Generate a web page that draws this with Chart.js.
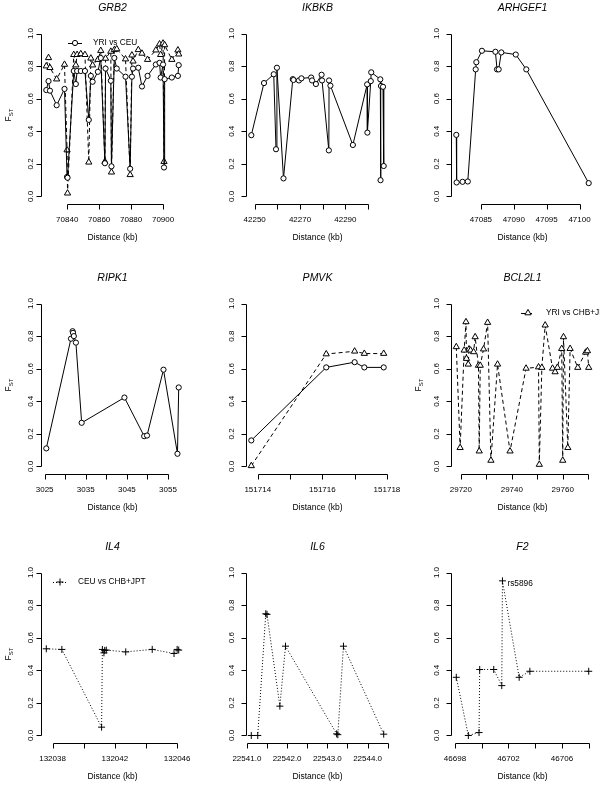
<!DOCTYPE html>
<html>
<head>
<meta charset="utf-8">
<script src="https://cdn.jsdelivr.net/npm/chart.js@4.4.0/dist/chart.umd.min.js"></script>
<style>
html, body { margin: 0; padding: 0; background: #fff; width: 600px; height: 785px; overflow: hidden; position: relative; }
canvas { position: absolute; }
</style>
</head>
<body>
<script>
// EJE Y COMUN (F_ST)
const fstTicks = [0, 0.2, 0.4, 0.6, 0.8, 1.0];
const fstEtiq = ['0.0', '0.2', '0.4', '0.6', '0.8', '1.0'];

// NOMBRES DE LAS COMPARACIONES
const nombresSerie = { ceu: 'YRI vs CEU', chb: 'YRI vs CHB+JPT', asia: 'CEU vs CHB+JPT' };

// GRB2
const grb2Kb = [70826.9, 70828.3, 70829.2, 70833.4, 70838.3, 70839.9, 70840.2, 70844.1, 70845.4, 70846.2,
  70848.5, 70851.1, 70853.5, 70854.8, 70855.9, 70859.2, 70861.0, 70863.6, 70864.0, 70867.3,
  70867.7, 70869.5, 70871.0, 70876.5, 70879.4, 70880.5, 70881.2, 70884.5, 70886.8, 70890.3,
  70895.5, 70897.8, 70898.5, 70900.0, 70900.6, 70901.0, 70905.5, 70909.3, 70909.8];
const grb2Ceu = [0.653, 0.708, 0.649, 0.56, 0.66, 0.12, 0.115, 0.77, 0.69, 0.77,
  0.77, 0.77, 0.47, 0.74, 0.704, 0.765, 0.85, 0.204, 0.785, 0.71,
  0.185, 0.85, 0.785, 0.735, 0.17, 0.735, 0.785, 0.79, 0.675, 0.74,
  0.81, 0.82, 0.73, 0.81, 0.178, 0.72, 0.73, 0.74, 0.806];
const grb2Chb = [0.80, 0.851, 0.79, 0.72, 0.81, 0.285, 0.02, 0.87, 0.806, 0.87,
  0.875, 0.87, 0.21, 0.848, 0.806, 0.84, 0.895, 0.214, 0.847, 0.89,
  0.149, 0.90, 0.905, 0.843, 0.133, 0.867, 0.83, 0.90, 0.878, 0.84,
  0.898, 0.935, 0.87, 0.94, 0.214, 0.93, 0.84, 0.898, 0.873];
const grb2Ticks = [70840, 70860, 70880, 70900];
const grb2Etiq = ['70840', '70860', '70880', '70900'];

// IKBKB
const ikbkbKb = [42248.5, 42254.1, 42258.4, 42259.4, 42259.8, 42262.7, 42266.8, 42267.1, 42269.5, 42270.6,
  42274.9, 42275.3, 42277.0, 42279.5, 42279.7, 42282.7, 42282.8, 42283.4, 42293.3, 42299.6,
  42299.7, 42301.2, 42301.4, 42305.4, 42305.5, 42305.7, 42306.6, 42306.9];
const ikbkbCeu = [0.376, 0.696, 0.75, 0.29, 0.79, 0.111, 0.72, 0.715, 0.712, 0.725,
  0.73, 0.712, 0.69, 0.747, 0.712, 0.283, 0.712, 0.68, 0.316, 0.688,
  0.392, 0.708, 0.762, 0.719, 0.10, 0.678, 0.673, 0.187];
const ikbkbTicks = [42250, 42260, 42270, 42280, 42290, 42300];
const ikbkbEtiq = ['42250', '', '42270', '', '42290', ''];

// ARHGEF1
const arhgef1Kb = [47081.25, 47081.3, 47082.2, 47083.0, 47084.2, 47084.3, 47085.15, 47087.2, 47087.45, 47087.7,
  47088.1, 47090.3, 47091.9, 47101.4];
const arhgef1Ceu = [0.378, 0.086, 0.09, 0.092, 0.78, 0.824, 0.894, 0.888, 0.78, 0.78,
  0.884, 0.871, 0.78, 0.082];
const arhgef1Ticks = [47085, 47090, 47095, 47100];
const arhgef1Etiq = ['47085', '47090', '47095', '47100'];

// RIPK1
const ripk1Kb = [3025.4, 3031.4, 3031.8, 3031.9, 3032.1, 3032.6, 3034.0, 3044.4, 3049.2, 3049.9, 3053.9, 3057.3, 3057.6];
const ripk1Ceu = [0.111, 0.784, 0.83, 0.82, 0.80, 0.76, 0.268, 0.423, 0.186, 0.19, 0.594, 0.078, 0.485];
const ripk1Ticks = [3025, 3030, 3035, 3040, 3045, 3050, 3055];
const ripk1Etiq = ['3025', '', '3035', '', '3045', '', '3055'];

// PMVK
const pmvkKb = [151713.8, 151716.12, 151717.0, 151717.3, 151717.9];
const pmvkCeu = [0.16, 0.608, 0.64, 0.608, 0.608];
const pmvkChb = [0.004, 0.69, 0.707, 0.693, 0.693];
const pmvkTicks = [151714, 151715, 151716, 151717, 151718];
const pmvkEtiq = ['151714', '', '151716', '', '151718'];

// BCL2L1
const bcl2l1Kb = [29718.2, 29719.7, 29721.3, 29722.0, 29722.2, 29722.9, 29723.2, 29723.8, 29725.0, 29725.6,
  29726.9, 29727.2, 29727.6, 29728.9, 29730.5, 29731.8, 29734.4, 29739.3, 29745.6, 29750.5,
  29750.8, 29751.8, 29753.1, 29756.0, 29757.0, 29757.9, 29759.6, 29760.0, 29760.3, 29762.0,
  29762.9, 29765.9, 29769.0, 29769.7, 29770.2];
const bcl2l1Chb = [0.734, 0.115, 0.713, 0.887, 0.662, 0.627, 0.72, 0.713, 0.703, 0.795,
  0.62, 0.094, 0.62, 0.72, 0.883, 0.037, 0.627, 0.094, 0.602, 0.61,
  0.012, 0.607, 0.867, 0.602, 0.58, 0.607, 0.723, 0.037, 0.795, 0.115,
  0.723, 0.607, 0.70, 0.709, 0.607];
const bcl2l1Ticks = [29720, 29730, 29740, 29750, 29760, 29770];
const bcl2l1Etiq = ['29720', '', '29740', '', '29760', ''];

// IL4
const il4Kb = [132037.6, 132038.6, 132041.15, 132041.2, 132041.3, 132041.35, 132041.45, 132042.7, 132044.4, 132045.8, 132046.0, 132046.1];
const il4Asia = [0.532, 0.528, 0.051, 0.528, 0.507, 0.522, 0.524, 0.513, 0.528, 0.503, 0.528, 0.524];
const il4Ticks = [132038, 132040, 132042, 132044, 132046];
const il4Etiq = ['132038', '', '132042', '', '132046'];

// IL6
const il6Kb = [22541.11, 22541.27, 22541.47, 22541.5, 22541.82, 22541.96, 22543.23, 22543.26, 22543.4, 22544.4];
const il6Asia = [0.0, 0.0, 0.747, 0.743, 0.18, 0.548, 0.01, 0.005, 0.548, 0.008];
const il6Ticks = [22541.0, 22541.5, 22542.0, 22542.5, 22543.0, 22543.5, 22544.0, 22544.5];
const il6Etiq = ['22541.0', '', '22542.0', '', '22543.0', '', '22544.0', ''];

// F2
const f2Kb = [46698.1, 46699.0, 46699.8, 46699.85, 46700.9, 46701.5, 46701.55, 46702.8, 46703.6, 46708.0];
const f2Asia = [0.357, 0.0, 0.018, 0.405, 0.405, 0.306, 0.949, 0.357, 0.394, 0.394];
const f2Ticks = [46698, 46700, 46702, 46704, 46706, 46708];
const f2Etiq = ['46698', '', '46702', '', '46706', ''];
const f2Nota = 'rs5896';

// ESTILOS DE CADA COMPARACION (como pch 1, 2, 3 de R)
const estilos = {
  ceu: { punto: 'circle', radio: 2.6, dash: [], fondo: '#fff' },
  chb: { punto: 'triangle', radio: 3.6, dash: [4, 3], fondo: '#fff' },
  asia: { punto: 'cross', radio: 3.5, dash: [1, 2], fondo: 'rgba(0,0,0,0)' }
};

const paneles = [
  { titulo: 'GRB2', fila: 0, col: 0, kb: grb2Kb, series: [[grb2Ceu, 'ceu'], [grb2Chb, 'chb']], ticks: grb2Ticks, etiq: grb2Etiq, fst: true, leyenda: { tipo: 'ceu', dx: 27 } },
  { titulo: 'IKBKB', fila: 0, col: 1, kb: ikbkbKb, series: [[ikbkbCeu, 'ceu']], ticks: ikbkbTicks, etiq: ikbkbEtiq },
  { titulo: 'ARHGEF1', fila: 0, col: 2, kb: arhgef1Kb, series: [[arhgef1Ceu, 'ceu']], ticks: arhgef1Ticks, etiq: arhgef1Etiq },
  { titulo: 'RIPK1', fila: 1, col: 0, kb: ripk1Kb, series: [[ripk1Ceu, 'ceu']], ticks: ripk1Ticks, etiq: ripk1Etiq, fst: true },
  { titulo: 'PMVK', fila: 1, col: 1, kb: pmvkKb, series: [[pmvkCeu, 'ceu'], [pmvkChb, 'chb']], ticks: pmvkTicks, etiq: pmvkEtiq },
  { titulo: 'BCL2L1', fila: 1, col: 2, kb: bcl2l1Kb, series: [[bcl2l1Chb, 'chb']], ticks: bcl2l1Ticks, etiq: bcl2l1Etiq, fst: true, leyenda: { tipo: 'chb', dx: 70 } },
  { titulo: 'IL4', fila: 2, col: 0, kb: il4Kb, series: [[il4Asia, 'asia']], ticks: il4Ticks, etiq: il4Etiq, fst: true, leyenda: { tipo: 'asia', dx: 12 } },
  { titulo: 'IL6', fila: 2, col: 1, kb: il6Kb, series: [[il6Asia, 'asia']], ticks: il6Ticks, etiq: il6Etiq },
  { titulo: 'F2', fila: 2, col: 2, kb: f2Kb, series: [[f2Asia, 'asia']], ticks: f2Ticks, etiq: f2Etiq, nota: f2Nota }
];

// POSICIONES DE LOS PANELES
const anchoPanel = 205, altoPanel = 270;
const filasTop = [0, 270, 539];
const separacionY = [10.5, 14.5, 14.5];
const fuente = '"Liberation Sans", Arial, Helvetica, sans-serif';

// rango de R: 4% extra a cada lado
function rangoR(valores) {
  let min = Math.min(...valores), max = Math.max(...valores);
  let pad = (max - min) * 0.04;
  return [min - pad, max + pad];
}

function crearDataset(kb, fst, tipo) {
  const e = estilos[tipo];
  return {
    data: kb.map((x, i) => ({ x: x, y: fst[i] })),
    showLine: true,
    borderColor: '#000',
    borderWidth: 1,
    borderDash: e.dash,
    tension: 0,
    pointStyle: e.punto,
    pointRadius: e.radio,
    pointBorderColor: '#000',
    pointBackgroundColor: e.fondo,
    pointBorderWidth: 1
  };
}

function dibujarSimbolo(ctx, tipo, x, y) {
  const e = estilos[tipo];
  ctx.beginPath();
  if (tipo === 'ceu') {
    ctx.arc(x, y, e.radio, 0, Math.PI * 2);
    ctx.fillStyle = '#fff'; ctx.fill();
  } else if (tipo === 'chb') {
    let r = e.radio;
    ctx.moveTo(x, y - r);
    ctx.lineTo(x + Math.sin(2 * Math.PI / 3) * r, y - Math.cos(2 * Math.PI / 3) * r);
    ctx.lineTo(x + Math.sin(4 * Math.PI / 3) * r, y - Math.cos(4 * Math.PI / 3) * r);
    ctx.closePath();
    ctx.fillStyle = '#fff'; ctx.fill();
  } else {
    ctx.moveTo(x - e.radio, y); ctx.lineTo(x + e.radio, y);
    ctx.moveTo(x, y - e.radio); ctx.lineTo(x, y + e.radio);
  }
  ctx.stroke();
  ctx.fillStyle = '#000';
}

// EJES, TITULOS Y LEYENDAS AL ESTILO R
function crearEjes(p) {
  return {
    id: 'ejesR',
    afterDraw(chart) {
      const ctx = chart.ctx, a = chart.chartArea;
      const sx = chart.scales.x, sy = chart.scales.y;
      const cx = (a.left + a.right) / 2, cy = (a.top + a.bottom) / 2;
      ctx.save();
      ctx.strokeStyle = '#000';
      ctx.fillStyle = '#000';
      ctx.lineWidth = 1;
      ctx.setLineDash([]);

      // eje y
      const xe = Math.round(a.left) + 0.5;
      ctx.beginPath();
      ctx.moveTo(xe, Math.round(sy.getPixelForValue(fstTicks[0])) + 0.5);
      ctx.lineTo(xe, Math.round(sy.getPixelForValue(fstTicks[fstTicks.length - 1])) + 0.5);
      fstTicks.forEach(v => {
        let y = Math.round(sy.getPixelForValue(v)) + 0.5;
        ctx.moveTo(xe, y); ctx.lineTo(xe - 5, y);
      });
      ctx.stroke();
      ctx.font = '8px ' + fuente;
      ctx.textAlign = 'center';
      ctx.textBaseline = 'middle';
      fstTicks.forEach((v, i) => {
        ctx.save();
        ctx.translate(a.left - separacionY[p.col], sy.getPixelForValue(v));
        ctx.rotate(-Math.PI / 2);
        ctx.fillText(fstEtiq[i], 0, 0);
        ctx.restore();
      });

      // eje x
      const ye = Math.round(a.bottom) + 1.5;
      ctx.beginPath();
      ctx.moveTo(Math.round(sx.getPixelForValue(p.ticks[0])) + 0.5, ye);
      ctx.lineTo(Math.round(sx.getPixelForValue(p.ticks[p.ticks.length - 1])) + 0.5, ye);
      p.ticks.forEach(v => {
        let x = Math.round(sx.getPixelForValue(v)) + 0.5;
        ctx.moveTo(x, ye); ctx.lineTo(x, ye + 5);
      });
      ctx.stroke();
      p.ticks.forEach((v, i) => {
        if (p.etiq[i]) ctx.fillText(p.etiq[i], sx.getPixelForValue(v), a.bottom + 17);
      });

      // titulos
      ctx.font = '8.5px ' + fuente;
      ctx.fillText('Distance (kb)', cx, a.bottom + 35);
      ctx.font = 'italic 10.5px ' + fuente;
      ctx.fillText(p.titulo, cx, a.top - 19);

      if (p.fst) {
        ctx.save();
        ctx.translate(a.left - 32, cy);
        ctx.rotate(-Math.PI / 2);
        ctx.font = '8.5px ' + fuente;
        let wF = ctx.measureText('F').width;
        ctx.font = '6px ' + fuente;
        let wS = ctx.measureText('ST').width;
        ctx.textAlign = 'left';
        ctx.font = '8.5px ' + fuente;
        ctx.fillText('F', -(wF + wS) / 2, 0);
        ctx.font = '6px ' + fuente;
        ctx.fillText('ST', -(wF + wS) / 2 + wF, 2.5);
        ctx.restore();
      }

      // leyenda
      if (p.leyenda) {
        const t = p.leyenda.tipo;
        const yl = a.top + 16;
        const x1 = a.left + p.leyenda.dx;
        ctx.beginPath();
        ctx.setLineDash(estilos[t].dash);
        ctx.moveTo(x1, yl + 0.5);
        ctx.lineTo(x1 + 14, yl + 0.5);
        ctx.stroke();
        ctx.setLineDash([]);
        dibujarSimbolo(ctx, t, x1 + 7, yl);
        ctx.font = '8.3px ' + fuente;
        ctx.textAlign = 'left';
        ctx.fillText(nombresSerie[t], x1 + 25, yl);
      }

      // nota del SNP con el F_ST mas alto
      if (p.nota) {
        const valores = p.series[0][0];
        let iMax = valores.indexOf(Math.max(...valores));
        ctx.font = '8.3px ' + fuente;
        ctx.textAlign = 'left';
        ctx.fillText(p.nota, sx.getPixelForValue(p.kb[iMax]) + 5, sy.getPixelForValue(valores[iMax]) + 3);
      }
      ctx.restore();
    }
  };
}

// DIBUJAR LOS NUEVE PANELES
paneles.forEach(p => {
  const canvas = document.createElement('canvas');
  canvas.width = anchoPanel;
  canvas.height = altoPanel;
  canvas.style.left = (p.col * anchoPanel) + 'px';
  canvas.style.top = filasTop[p.fila] + 'px';
  document.body.appendChild(canvas);

  const xr = rangoR(p.kb);
  new Chart(canvas, {
    type: 'scatter',
    data: { datasets: p.series.map(s => crearDataset(p.kb, s[0], s[1])) },
    options: {
      responsive: false,
      animation: false,
      devicePixelRatio: 1,
      events: [],
      layout: { padding: { left: 41, right: 21, top: 27, bottom: 67 } },
      scales: {
        x: { type: 'linear', display: false, min: xr[0], max: xr[1] },
        y: { type: 'linear', display: false, min: -0.04, max: 1.04 }
      },
      plugins: { legend: { display: false }, tooltip: { enabled: false } }
    },
    plugins: [crearEjes(p)]
  });
});
</script>
</body>
</html>
